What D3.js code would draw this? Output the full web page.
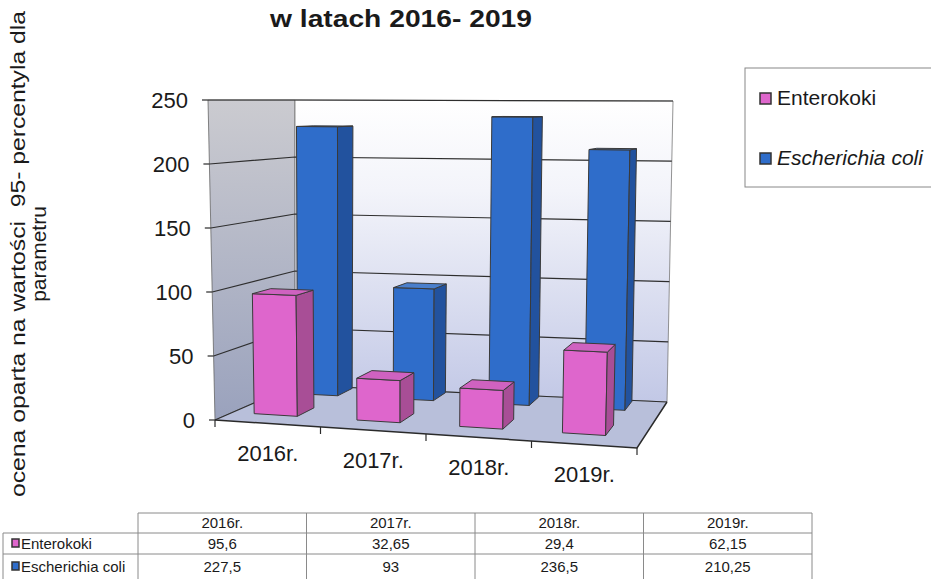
<!DOCTYPE html>
<html>
<head>
<meta charset="utf-8">
<script src="https://cdn.jsdelivr.net/npm/d3@7"></script>
<style>
  body { margin: 0; background: #fff; }
  text { font-family: "Liberation Sans", Arial, sans-serif; fill: #1a1a1a; }
</style>
</head>
<body>
<svg id="chart" width="931" height="579"></svg>
<script>
const categories = ["2016r.", "2017r.", "2018r.", "2019r."];
const enterokoki = [95.6, 32.65, 29.4, 62.15];
const ecoli = [227.5, 93, 236.5, 210.25];
const yTicks = [0, 50, 100, 150, 200, 250];
const seriesNames = ["Enterokoki", "Escherichia coli"];

const svg = d3.select("#chart");
const fmt = d3.formatLocale({ decimal: ",", thousands: " ", grouping: [3], currency: ["", ""] }).format("");

// corners of the 3d box: front/back, bottom/top, left/right
const box = {
  fb0: [215, 420], fb1: [637, 448], bb0: [295, 385], bb1: [667, 402],
  ft0: [208, 100], ft1: [646, 100], bt0: [295, 100], bt1: [673, 101]
};
const lerp = (a, b, k) => [a[0] + (b[0] - a[0]) * k, a[1] + (b[1] - a[1]) * k];
function proj(u, v, t) {
  const bottom = lerp(lerp(box.fb0, box.fb1, u), lerp(box.bb0, box.bb1, u), v);
  const top = lerp(lerp(box.ft0, box.ft1, u), lerp(box.bt0, box.bt1, u), v);
  return lerp(bottom, top, t);
}

const y = d3.scaleLinear().domain([0, 250]).range([0, 1]);
const x = d3.scaleBand().domain(categories).range([0, 1]);
const line = d3.line();

const defs = svg.append("defs");
function grad(id, stops) {
  const g = defs.append("linearGradient").attr("id", id)
    .attr("x1", 0).attr("y1", 0).attr("x2", 0).attr("y2", 1);
  stops.forEach(s => g.append("stop").attr("offset", s[0]).attr("stop-color", s[1]));
}
grad("leftWall", [[0, "#cbcbd0"], [1, "#9aa2bd"]]);
grad("backWall", [[0, "#ffffff"], [0.3, "#f3f4fa"], [1, "#c2c8e6"]]);

// walls and floor
const g = svg.append("g");
g.append("path")
  .attr("d", line([proj(0, 0, 0), proj(0, 0, 1), proj(0, 1, 1), proj(0, 1, 0)]) + "Z")
  .attr("fill", "url(#leftWall)").attr("stroke", "#666").attr("stroke-width", 0.8);
g.append("path")
  .attr("d", line([proj(0, 1, 0), proj(0, 1, 1), proj(1, 1, 1), proj(1, 1, 0)]) + "Z")
  .attr("fill", "url(#backWall)").attr("stroke", "#777").attr("stroke-width", 0.8);
g.append("path")
  .attr("d", line([proj(0, 0, 0), proj(1, 0, 0), proj(1, 1, 0), proj(0, 1, 0)]) + "Z")
  .attr("fill", "#b8bfda").attr("stroke", "none");

// gridlines on the walls
g.selectAll(".grid")
  .data(yTicks)
  .join("path")
  .attr("class", "grid")
  .attr("d", d => line([proj(0, 0, y(d)), proj(0, 1, y(d)), proj(1, 1, y(d))]))
  .attr("fill", "none")
  .attr("stroke", "#2e2e2e")
  .attr("stroke-width", 1.2);

// floor front and right edges
g.append("path")
  .attr("d", line([proj(0, 0, 0), proj(1, 0, 0), proj(1, 1, 0)]))
  .attr("fill", "none").attr("stroke", "#2a2a2a").attr("stroke-width", 1.5);

// y axis ticks and labels
const yAxis = svg.append("g");
yTicks.forEach(d => {
  const p = proj(0, 0, y(d));
  yAxis.append("line").attr("x1", p[0] - 6).attr("x2", p[0]).attr("y1", p[1]).attr("y2", p[1])
    .attr("stroke", "#2a2a2a").attr("stroke-width", 1.2);
  yAxis.append("text").attr("x", p[0] - 20).attr("y", p[1] + 7.5)
    .attr("text-anchor", "end").attr("font-size", 22).text(d);
});

// x axis ticks and labels
const xAxis = svg.append("g");
[0, 0.25, 0.5, 0.75, 1].forEach(u => {
  const p = proj(u, 0, 0);
  xAxis.append("line").attr("x1", p[0]).attr("x2", p[0]).attr("y1", p[1]).attr("y2", p[1] + 7)
    .attr("stroke", "#2a2a2a").attr("stroke-width", 1.2);
});
categories.forEach(c => {
  const p = proj(x(c) + x.bandwidth() / 2, 0, 0);
  xAxis.append("text").attr("x", p[0]).attr("y", p[1] + 37)
    .attr("text-anchor", "middle").attr("font-size", 22).text(c);
});

// bars
const series = [
  { name: "Escherichia coli", values: ecoli, v0: 0.78, v1: 0.98,
    front: "#2f6dca", side: "#22529e", top: "#4a7fcc" },
  { name: "Enterokoki", values: enterokoki, v0: 0.22, v1: 0.45,
    front: "#de66cc", side: "#a84e96", top: "#cf62c0" }
];
const bars = svg.append("g");
series.forEach(s => {
  categories.forEach((c, i) => {
    const u0 = x(c) + x.bandwidth() * 0.21;
    const u1 = x(c) + x.bandwidth() * 0.63;
    const t = y(s.values[i]);
    const faces = [
      [[proj(u0, s.v0, 0), proj(u1, s.v0, 0), proj(u1, s.v0, t), proj(u0, s.v0, t)], s.front],
      [[proj(u1, s.v0, 0), proj(u1, s.v1, 0), proj(u1, s.v1, t), proj(u1, s.v0, t)], s.side],
      [[proj(u0, s.v0, t), proj(u1, s.v0, t), proj(u1, s.v1, t), proj(u0, s.v1, t)], s.top]
    ];
    faces.forEach(f => {
      bars.append("path").attr("d", line(f[0]) + "Z")
        .attr("fill", f[1]).attr("stroke", "#3a3a3a").attr("stroke-width", 1);
    });
  });
});

// title
svg.append("text").attr("x", 401).attr("y", 27).attr("text-anchor", "middle")
  .attr("font-size", 24).attr("font-weight", "bold")
  .attr("textLength", 262).attr("lengthAdjust", "spacingAndGlyphs")
  .text("w latach 2016- 2019");

// y axis title
const yt = svg.append("g").attr("transform", "translate(0,254) rotate(-90)");
yt.append("text").attr("x", 0).attr("y", 25).attr("text-anchor", "middle")
  .attr("font-size", 21).attr("textLength", 486).attr("lengthAdjust", "spacingAndGlyphs")
  .attr("xml:space", "preserve")
  .text("ocena oparta na wartości  95- percentyla dla");
yt.append("text").attr("x", 0).attr("y", 46).attr("text-anchor", "middle")
  .attr("font-size", 21).text("parametru");

// legend
const legend = svg.append("g");
legend.append("rect").attr("x", 745).attr("y", 68).attr("width", 200).attr("height", 119)
  .attr("fill", "#fff").attr("stroke", "#888").attr("stroke-width", 1);
[series[1], series[0]].forEach((s, i) => {
  const ly = 105 + i * 60;
  legend.append("rect").attr("x", 760).attr("y", ly - 12).attr("width", 11).attr("height", 11)
    .attr("fill", s.front).attr("stroke", "#333").attr("stroke-width", 1.5);
  legend.append("text").attr("x", 777).attr("y", ly).attr("font-size", 21)
    .attr("font-style", i === 1 ? "italic" : "normal").text(s.name);
});

// data table
const tbl = svg.append("g");
const col = d3.scaleBand().domain(categories).range([138, 812]);
const rows = [513, 533, 554, 584];
const baselines = [528, 549, 572];
const gridStroke = "#8a8a8a";
tbl.append("line").attr("x1", 138).attr("x2", 812).attr("y1", rows[0]).attr("y2", rows[0]).attr("stroke", gridStroke);
tbl.append("line").attr("x1", 3).attr("x2", 812).attr("y1", rows[1]).attr("y2", rows[1]).attr("stroke", gridStroke);
tbl.append("line").attr("x1", 3).attr("x2", 812).attr("y1", rows[2]).attr("y2", rows[2]).attr("stroke", gridStroke);
tbl.append("line").attr("x1", 3).attr("x2", 3).attr("y1", rows[1]).attr("y2", rows[3]).attr("stroke", gridStroke);
[...categories.map(c => col(c)), 812].forEach(cx => {
  tbl.append("line").attr("x1", cx).attr("x2", cx).attr("y1", rows[0]).attr("y2", rows[3]).attr("stroke", gridStroke);
});
categories.forEach(c => {
  tbl.append("text").attr("x", col(c) + col.bandwidth() / 2).attr("y", baselines[0])
    .attr("text-anchor", "middle").attr("font-size", 15).text(c);
});
[series[1], series[0]].forEach((s, r) => {
  const base = baselines[r + 1];
  tbl.append("rect").attr("x", 12).attr("y", base - 10).attr("width", 7).attr("height", 8)
    .attr("fill", s.front).attr("stroke", "#333").attr("stroke-width", 1.5);
  tbl.append("text").attr("x", 21).attr("y", base).attr("font-size", 15).text(s.name);
  categories.forEach((c, i) => {
    tbl.append("text").attr("x", col(c) + col.bandwidth() / 2).attr("y", base)
      .attr("text-anchor", "middle").attr("font-size", 15).text(fmt(s.values[i]));
  });
});
</script>
</body>
</html>
